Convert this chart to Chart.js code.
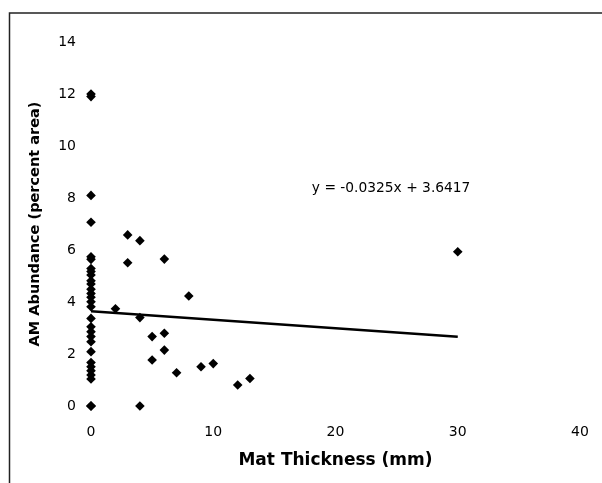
<!DOCTYPE html>
<html>
<head>
<meta charset="utf-8">
<script src="https://cdn.jsdelivr.net/npm/chart.js@4"></script>
<style>
  html, body { margin: 0; padding: 0; background: #fff; }
  canvas { display: block; }
</style>
</head>
<body>
<canvas id="myChart" width="602" height="483"></canvas>
<script>
// mat thickness (mm) and AM abundance (percent area)
const matThickness = [
  0, 0, 0, 0, 0, 0, 0, 0, 0, 0, 0, 0, 0, 0, 0,
  0, 0, 0, 0, 0, 0, 0, 0, 0, 0, 0, 0, 0, 0, 0,
  2, 3, 3, 4, 4, 4, 5, 5, 6, 6, 6, 7, 8, 9, 10, 12, 13, 30,
];
const amAbundance = [
  11.9, 12.0, 8.1, 7.07, 5.74, 5.64, 5.29, 5.17, 5.04, 4.82, 4.69, 4.49, 4.33, 4.18, 4.01,
  3.82, 3.37, 3.05, 2.86, 2.67, 2.47, 2.09, 1.67, 1.51, 1.36, 1.19, 1.04, 0, 0, 0,
  3.74, 6.58, 5.51, 6.36, 3.4, 0, 2.67, 1.77, 5.65, 2.8, 2.15, 1.28, 4.23, 1.51, 1.63, 0.81, 1.06, 5.93,
];
// linear trendline y = -0.0325x + 3.6417, drawn across the data range
const trendX = [0, 30];
const trendY = [3.6417, 2.6667];
const trendLabel = 'y = -0.0325x + 3.6417';
const xTicks = [0, 10, 20, 30, 40];
const yTicks = [0, 2, 4, 6, 8, 10, 12, 14];

const ctx = document.querySelector('#myChart').getContext('2d');
const fontFamily = "'DejaVu Sans', Verdana, sans-serif";

const framePlugin = {
  id: 'frame',
  beforeDraw(chart) {
    const c = chart.ctx;
    c.save();
    c.fillStyle = '#fff';
    c.fillRect(0, 0, chart.width, chart.height);
    c.strokeStyle = '#222';
    c.lineWidth = 1.5;
    c.beginPath();
    c.moveTo(9.5, chart.height);
    c.lineTo(9.5, 13);
    c.lineTo(chart.width, 13);
    c.stroke();
    c.restore();
  },
  afterDatasetsDraw(chart) {
    const c = chart.ctx;
    const x = chart.scales.x.getPixelForValue(24.55);
    const y = chart.scales.y.getPixelForValue(8.38);
    c.save();
    c.fillStyle = '#000';
    c.font = '13.8px ' + fontFamily;
    c.textAlign = 'center';
    c.textBaseline = 'middle';
    c.fillText(trendLabel, x, y);
    c.restore();
  },
};

const chart = new Chart(ctx, {
  type: 'scatter',
  data: {
    datasets: [
      {
        label: 'AM abundance',
        data: matThickness.map((x, i) => ({ x: x, y: amAbundance[i] })),
        pointStyle: 'rectRot',
        pointRadius: 4.8,
        pointHoverRadius: 4.8,
        backgroundColor: '#000',
        borderColor: '#000',
        borderWidth: 0,
        clip: false,
      },
      {
        type: 'line',
        label: 'Linear trend',
        data: trendX.map((x, i) => ({ x: x, y: trendY[i] })),
        borderColor: '#000',
        borderWidth: 2.5,
        pointRadius: 0,
        fill: false,
      },
    ],
  },
  options: {
    responsive: false,
    animation: false,
    layout: { padding: { left: 8, top: 42, right: 22, bottom: 0 } },
    plugins: {
      legend: { display: false },
      tooltip: { enabled: false },
    },
    scales: {
      x: {
        type: 'linear',
        min: 0,
        max: 40,
        afterBuildTicks: scale => {
          scale.ticks = xTicks.map(v => ({ value: v }));
        },
        afterFit: scale => {
          scale.height = 77;
          scale.paddingLeft = 0;
          scale.paddingRight = 0;
        },
        grid: { display: false, drawTicks: false },
        border: { display: false },
        ticks: {
          color: '#000',
          padding: 18,
          font: { family: fontFamily, size: 14 },
        },
        title: {
          display: true,
          text: 'Mat Thickness (mm)',
          color: '#000',
          font: { family: fontFamily, size: 17, weight: 'bold' },
          padding: { top: 0, bottom: 12 },
        },
      },
      y: {
        type: 'linear',
        min: 0,
        max: 14,
        afterBuildTicks: scale => {
          scale.ticks = yTicks.map(v => ({ value: v }));
        },
        afterFit: scale => {
          scale.width = 83;
        },
        grid: { display: false, drawTicks: false },
        border: { display: false },
        ticks: {
          color: '#000',
          padding: 15,
          font: { family: fontFamily, size: 14 },
        },
        title: {
          display: true,
          text: 'AM Abundance (percent area)',
          color: '#000',
          font: { family: fontFamily, size: 14.5, weight: 'bold' },
          padding: { top: 19, bottom: 0 },
        },
      },
    },
  },
  plugins: [framePlugin],
});
</script>
</body>
</html>
